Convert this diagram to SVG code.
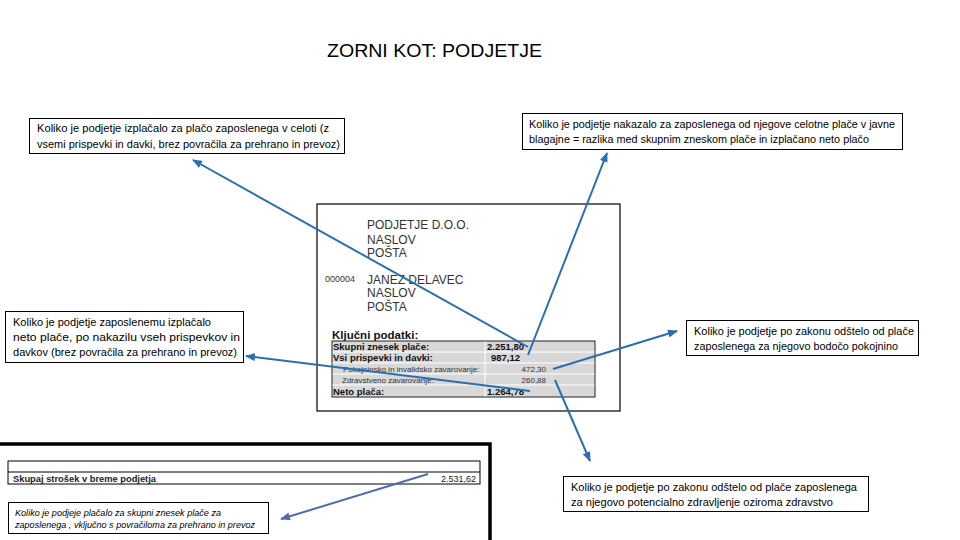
<svg xmlns="http://www.w3.org/2000/svg" width="960" height="540" viewBox="0 0 960 540">
<defs>
<style>
.box{fill:#fff;stroke:#000;stroke-width:1}
.t{font-family:"Liberation Sans",Arial,sans-serif;font-size:10.5px;fill:#000}
.ti{font-family:"Liberation Sans",Arial,sans-serif;font-size:8.5px;font-style:italic;fill:#000}
.p{font-family:"Liberation Sans",Arial,sans-serif;font-size:12px;fill:#333}
.ps{font-family:"Liberation Sans",Arial,sans-serif;font-size:9px;fill:#333}
.tb{font-family:"Liberation Sans",Arial,sans-serif;font-size:9.5px;font-weight:bold;fill:#111}
.tn{font-family:"Liberation Sans",Arial,sans-serif;font-size:8px;fill:#333}
.con{fill:none;stroke:#2a6fb0;stroke-width:2}
.con2{fill:none;stroke:#4d6db0;stroke-width:2}
</style>
<marker id="ah" viewBox="0 0 10 8" refX="9" refY="4" markerWidth="10" markerHeight="8" markerUnits="userSpaceOnUse" orient="auto">
<path d="M0,0 L10,4 L0,8 Z" fill="#2a6fb0"/>
</marker>
<marker id="ah2" viewBox="0 0 10 8" refX="9" refY="4" markerWidth="10" markerHeight="8" markerUnits="userSpaceOnUse" orient="auto">
<path d="M0,0 L10,4 L0,8 Z" fill="#4d6db0"/>
</marker>
</defs>
<rect width="960" height="540" fill="#fff"/>

<g id="title">
<text x="327" y="57" font-family="Liberation Sans,Arial,sans-serif" font-size="18" textLength="215" lengthAdjust="spacingAndGlyphs">ZORNI KOT: PODJETJE</text>
</g>

<g id="payslip">
<rect x="317" y="204" width="303" height="207" fill="#fff" stroke="#000" stroke-width="1.2"/>
<text class="p" x="367" y="229">PODJETJE D.O.O.</text>
<text class="p" x="367" y="244">NASLOV</text>
<text class="p" x="367" y="257">POŠTA</text>
<text class="ps" x="325" y="282">000004</text>
<text class="p" x="367" y="284">JANEZ DELAVEC</text>
<text class="p" x="367" y="297">NASLOV</text>
<text class="p" x="367" y="311">POŠTA</text>
<text x="332" y="339" font-family="Liberation Sans,Arial,sans-serif" font-size="11.5" font-weight="bold" fill="#111">Ključni podatki:</text>
<rect x="332" y="341" width="263" height="56" fill="#d8d8d8" stroke="#222" stroke-width="1"/>
<g stroke="#fff" stroke-width="1">
<line x1="332.5" y1="352" x2="594.5" y2="352"/>
<line x1="332.5" y1="363" x2="594.5" y2="363"/>
<line x1="332.5" y1="374" x2="594.5" y2="374"/>
<line x1="332.5" y1="385" x2="594.5" y2="385"/>
<line x1="485" y1="341.5" x2="485" y2="396.5"/>
</g>
<text class="tb" x="333" y="350">Skupni znesek plače:</text>
<text class="tb" x="487" y="350">2.251,80</text>
<text class="tb" x="333" y="361">Vsi prispevki in davki:</text>
<text class="tb" x="520" y="361" text-anchor="end">987,12</text>
<text class="tn" x="343" y="372">Pokojninsko in invalidsko zavarovanje:</text>
<text class="tn" x="546" y="372" text-anchor="end">472,30</text>
<text class="tn" x="342" y="383">Zdravstveno zavarovanje:</text>
<text class="tn" x="546" y="383" text-anchor="end">260,88</text>
<text class="tb" x="333" y="395">Neto plača:</text>
<text class="tb" x="487" y="395">1.264,78</text>
</g>

<g id="cost-sheet">
<path d="M0,444 L490,444 L490,540" fill="none" stroke="#000" stroke-width="3.5"/>
<rect x="8" y="461" width="472" height="23" fill="#fff" stroke="#000" stroke-width="1"/>
<line x1="8" y1="472" x2="480" y2="472" stroke="#000" stroke-width="1"/>
<text x="13" y="482" font-family="Liberation Sans,Arial,sans-serif" font-size="9" font-weight="bold" fill="#222" textLength="143" lengthAdjust="spacingAndGlyphs">Skupaj strošek v breme podjetja</text>
<text x="476" y="482" font-family="Liberation Sans,Arial,sans-serif" font-size="9" fill="#222" text-anchor="end">2.531,62</text>
</g>

<g id="box-izplacalo-celoti">
<rect class="box" x="29.5" y="118.5" width="315" height="35"/>
<text class="t" x="37" y="132" textLength="292" lengthAdjust="spacingAndGlyphs">Koliko je podjetje izplačalo za plačo zaposlenega v celoti (z</text>
<text class="t" x="37" y="148" textLength="303" lengthAdjust="spacingAndGlyphs">vsemi prispevki in davki, brez povračila za prehrano in prevoz)</text>
</g>

<g id="box-nakazalo">
<rect class="box" x="522.5" y="113.5" width="380" height="36"/>
<text class="t" x="529" y="128" textLength="366" lengthAdjust="spacingAndGlyphs">Koliko je podjetje nakazalo za zaposlenega od njegove celotne plače v javne</text>
<text class="t" x="529" y="143" textLength="340" lengthAdjust="spacingAndGlyphs">blagajne = razlika med skupnim zneskom plače in izplačano neto plačo</text>
</g>

<g id="box-neto">
<rect class="box" x="5.5" y="311.5" width="238" height="51"/>
<text class="t" x="13" y="326" textLength="198" lengthAdjust="spacingAndGlyphs">Koliko je podjetje zaposlenemu izplačalo</text>
<text class="t" x="13" y="341" textLength="227" lengthAdjust="spacingAndGlyphs">neto plače, po nakazilu vseh prispevkov in</text>
<text class="t" x="13" y="356" textLength="224" lengthAdjust="spacingAndGlyphs">davkov (brez povračila za prehrano in prevoz)</text>
</g>

<g id="box-pokojnina">
<rect class="box" x="686.5" y="320.5" width="232" height="35"/>
<text class="t" x="694" y="335" textLength="220" lengthAdjust="spacingAndGlyphs">Koliko je podjetje po zakonu odštelo od plače</text>
<text class="t" x="694" y="350" textLength="204" lengthAdjust="spacingAndGlyphs">zaposlenega za njegovo bodočo pokojnino</text>
</g>

<g id="box-zdravstvo">
<rect class="box" x="563.5" y="476.5" width="305" height="35"/>
<text class="t" x="571" y="491" textLength="286" lengthAdjust="spacingAndGlyphs">Koliko je podjetje po zakonu odštelo od plače zaposlenega</text>
<text class="t" x="571" y="506" textLength="262" lengthAdjust="spacingAndGlyphs">za njegovo potencialno zdravljenje oziroma zdravstvo</text>
</g>

<g id="box-skupni-strosek">
<rect class="box" x="8.5" y="502.5" width="260" height="31"/>
<text class="ti" x="15" y="516" textLength="206" lengthAdjust="spacingAndGlyphs">Koliko je podjeje plačalo za skupni znesek plače za</text>
<text class="ti" x="15" y="528" textLength="240" lengthAdjust="spacingAndGlyphs">zaposlenega , vključno s povračiloma za prehrano in prevoz</text>
</g>

<g id="connectors">
<path class="con" d="M528,347 L193,160" marker-end="url(#ah)"/>
<path class="con" d="M528,355 L607,153" marker-end="url(#ah)"/>
<path class="con" d="M530,391 L246,356" marker-end="url(#ah)"/>
<path class="con" d="M553,369 L677,331" marker-end="url(#ah)"/>
<path class="con" d="M555,380 L590,461" marker-end="url(#ah)"/>
<path class="con2" d="M428,474 L281,519" marker-end="url(#ah2)"/>
</g>
</svg>
